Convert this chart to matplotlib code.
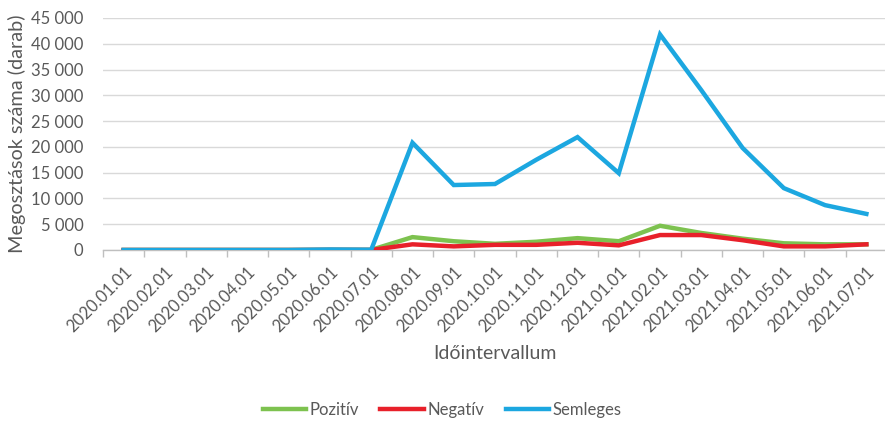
import matplotlib

matplotlib.use("Agg")
import matplotlib.pyplot as plt
from matplotlib.ticker import FuncFormatter, FixedLocator
import numpy as np

months = [
    "2020.01.01", "2020.02.01", "2020.03.01", "2020.04.01", "2020.05.01",
    "2020.06.01", "2020.07.01", "2020.08.01", "2020.09.01", "2020.10.01",
    "2020.11.01", "2020.12.01", "2021.01.01", "2021.02.01", "2021.03.01",
    "2021.04.01", "2021.05.01", "2021.06.01", "2021.07.01",
]
pozitiv = [0, 0, 0, 0, 0, 30, 20, 2500, 1700, 1200, 1600, 2300, 1700, 4700, 3300, 2200, 1300, 1100, 1100]
negativ = [0, 0, 0, 0, 0, 20, 10, 1100, 700, 1000, 1000, 1400, 900, 2900, 2900, 1900, 700, 700, 1100]
semleges = [0, 0, 0, 0, 0, 100, 50, 20800, 12600, 12800, 17500, 21900, 14900, 41800, 31000, 19800, 12000, 8700, 7000]

COLORS = {"Pozitív": "#7DC24F", "Negatív": "#E8202A", "Semleges": "#1CA7E0"}
TEXT = "#595959"
FONT = "Lato"

plt.rcParams["font.family"] = [FONT, "DejaVu Sans"]

fig = plt.figure(figsize=(8.85, 4.22), dpi=100)
ax = fig.add_axes([103 / 885, 1 - 250 / 422, 784 / 885, 232 / 422])

x = np.arange(len(months))
for name, vals in [("Pozitív", pozitiv), ("Negatív", negativ), ("Semleges", semleges)]:
    ax.plot(x, vals, color=COLORS[name], lw=3.2, label=name, solid_joinstyle="miter", zorder=3)

ax.set_xlim(-0.5, len(months) - 0.5)
ax.set_ylim(0, 45000)
ax.set_yticks(np.arange(0, 45001, 5000))
ax.yaxis.set_major_formatter(FuncFormatter(lambda v, p: f"{int(v):,}".replace(",", " ")))
ax.grid(axis="y", color="#D9D9D9", lw=1.0, zorder=0)
ax.tick_params(axis="y", length=0, pad=14, labelsize=12, labelcolor=TEXT)

ax.set_xticks(x)
ax.set_xticklabels(months, rotation=45, ha="right", rotation_mode="anchor")
ax.tick_params(axis="x", which="major", length=0, pad=10, labelsize=12, labelcolor=TEXT)
ax.xaxis.set_minor_locator(FixedLocator(np.arange(-0.5, len(months), 1.0)))
ax.tick_params(axis="x", which="minor", length=5, color="#BFBFBF", width=1)

for s in ["top", "right", "left"]:
    ax.spines[s].set_visible(False)
ax.spines["bottom"].set_color("#BFBFBF")
ax.spines["bottom"].set_linewidth(1)

ax.set_ylabel("Megosztások száma (darab)", fontsize=14.3, color=TEXT, labelpad=4)
ax.set_xlabel("Időintervallum", fontsize=14, color=TEXT, labelpad=7)

fig.legend(loc="center", bbox_to_anchor=(442 / 885, 1 - 410 / 422), ncol=3, frameon=False,
           fontsize=12, labelcolor=TEXT, handlelength=2.6, handletextpad=0.2, columnspacing=1.3)

fig.savefig("out.png", dpi=100)
